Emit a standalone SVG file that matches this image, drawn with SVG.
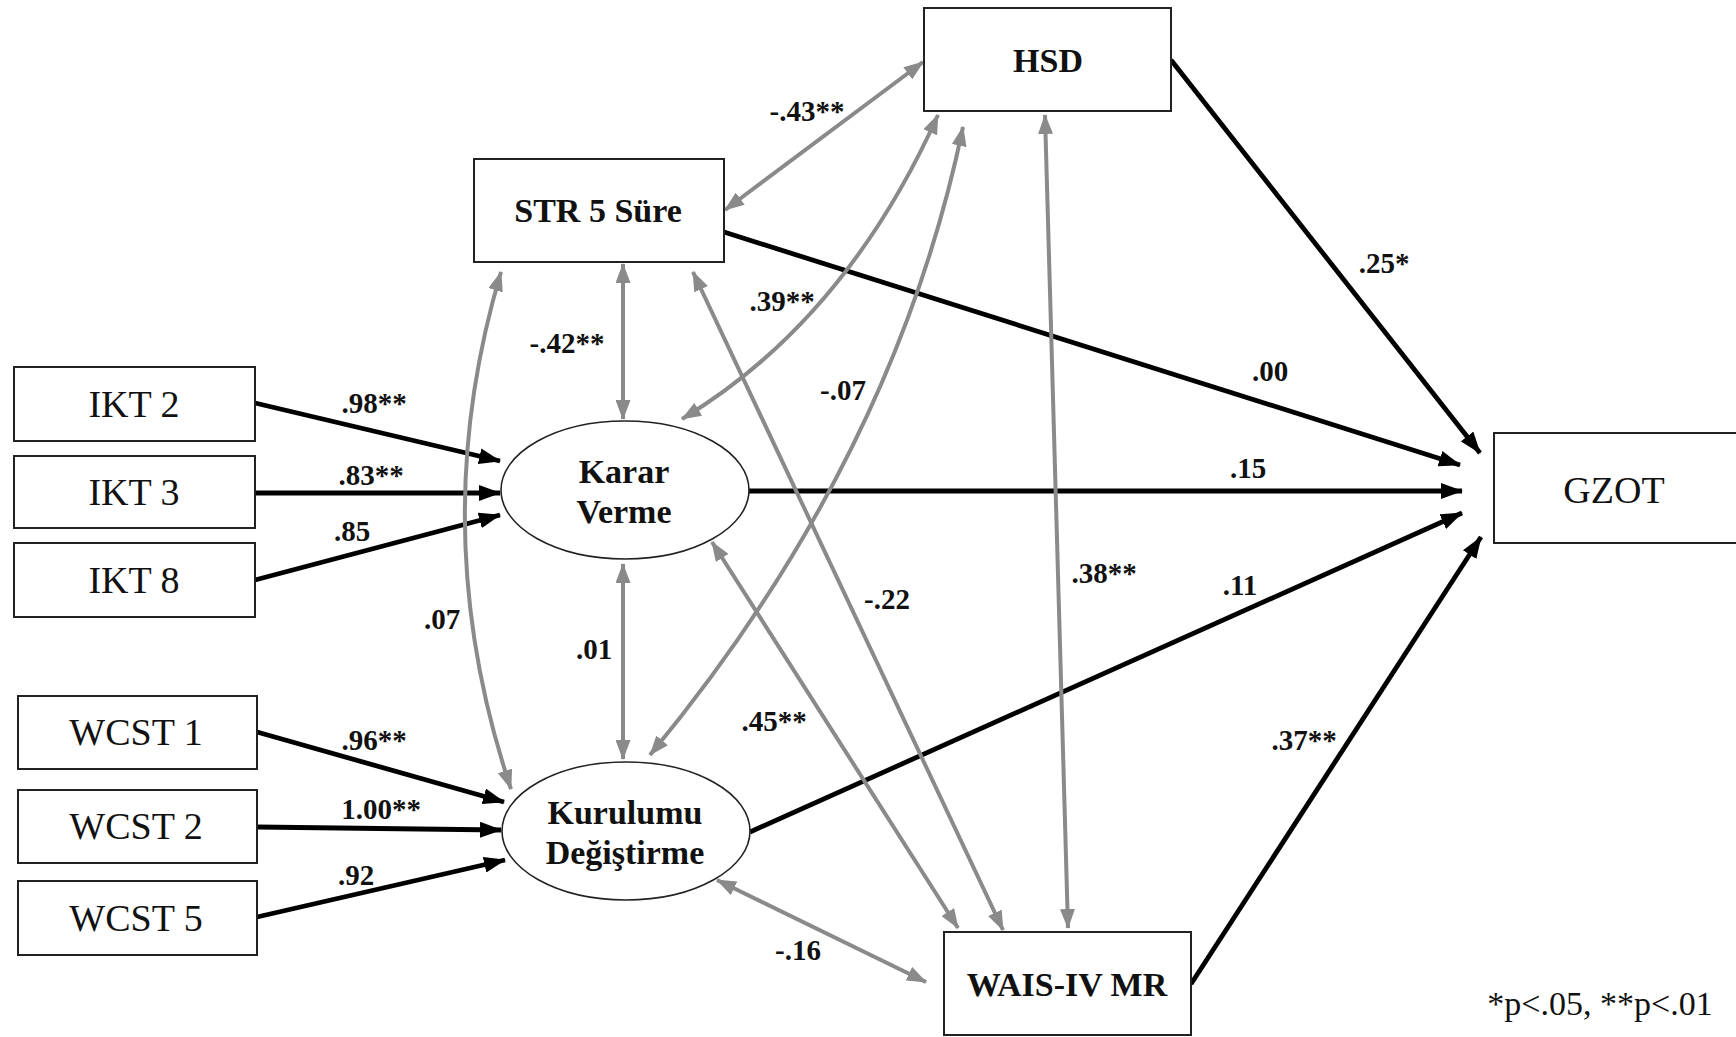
<svg xmlns="http://www.w3.org/2000/svg" width="1736" height="1037" viewBox="0 0 1736 1037">
<style>
.box{fill:#fff;stroke:#222;stroke-width:2}
.ell{fill:#fff;stroke:#222;stroke-width:1.6}
.reg{font-family:"Liberation Serif","Times New Roman",serif;font-size:38px;fill:#111;text-anchor:middle}
.bold{font-family:"Liberation Serif","Times New Roman",serif;font-size:34px;font-weight:bold;fill:#111;text-anchor:middle}
.lab{font-family:"Liberation Serif","Times New Roman",serif;font-size:29px;font-weight:bold;fill:#111;text-anchor:middle}
.note{font-family:"Liberation Serif","Times New Roman",serif;font-size:34px;fill:#111;text-anchor:middle}
.blk{fill:none;stroke:#000;stroke-width:4.8;marker-end:url(#ab)}
.gry{fill:none;stroke:#8a8a8a;stroke-width:4;marker-start:url(#ag);marker-end:url(#ag)}
</style>
<defs>
<marker id="ab" markerUnits="userSpaceOnUse" markerWidth="22" markerHeight="16" refX="21" refY="8" orient="auto">
<path d="M0,0 L22,8 L0,16 z" fill="#000"/>
</marker>
<marker id="ag" markerUnits="userSpaceOnUse" markerWidth="20" markerHeight="15" refX="19" refY="7.5" orient="auto-start-reverse">
<path d="M0,0 L20,7.5 L0,15 z" fill="#8a8a8a"/>
</marker>
</defs>
<rect width="1736" height="1037" fill="#fff"/>

<g id="connectors">
<g id="paths">
<line class="blk" x1="255" y1="403" x2="500" y2="461"/>
<line class="blk" x1="255" y1="493" x2="500" y2="493"/>
<line class="blk" x1="255" y1="580" x2="500" y2="515"/>
<line class="blk" x1="257" y1="732" x2="504" y2="802"/>
<line class="blk" x1="257" y1="827" x2="501" y2="830"/>
<line class="blk" x1="257" y1="917" x2="505" y2="860"/>
<line class="blk" x1="749" y1="491" x2="1462" y2="491"/>
<line class="blk" x1="724" y1="232" x2="1460" y2="465"/>
<line class="blk" x1="1171" y1="60" x2="1480" y2="453"/>
<line class="blk" x1="750" y1="832" x2="1462" y2="513"/>
<line class="blk" x1="1191" y1="984" x2="1481" y2="537"/>
</g>
<g id="covariances">
<line class="gry" x1="725" y1="210" x2="923" y2="62"/>
<line class="gry" x1="623" y1="264" x2="623" y2="419"/>
<path class="gry" d="M682,419 Q845,321 938,115"/>
<path class="gry" d="M650,755 Q894,460 963,127"/>
<path class="gry" d="M501,272 Q424,530 511,789"/>
<line class="gry" x1="693" y1="272" x2="1003" y2="930"/>
<line class="gry" x1="712" y1="542" x2="958" y2="928"/>
<line class="gry" x1="623" y1="564" x2="623" y2="759"/>
<line class="gry" x1="1045" y1="115" x2="1068" y2="928"/>
<line class="gry" x1="717" y1="880" x2="926" y2="982"/>
</g>
<g id="labels">
<text class="lab" x="807" y="121">-.43**</text>
<text class="lab" x="567" y="353">-.42**</text>
<text class="lab" x="782" y="311">.39**</text>
<text class="lab" x="843" y="400">-.07</text>
<text class="lab" x="442" y="629">.07</text>
<text class="lab" x="887" y="609">-.22</text>
<text class="lab" x="774" y="731">.45**</text>
<text class="lab" x="594" y="659">.01</text>
<text class="lab" x="1104" y="583">.38**</text>
<text class="lab" x="798" y="960">-.16</text>
<text class="lab" x="374" y="413">.98**</text>
<text class="lab" x="371" y="485">.83**</text>
<text class="lab" x="352" y="541">.85</text>
<text class="lab" x="374" y="750">.96**</text>
<text class="lab" x="381" y="819">1.00**</text>
<text class="lab" x="356" y="885">.92</text>
<text class="lab" x="1384" y="273">.25*</text>
<text class="lab" x="1270" y="381">.00</text>
<text class="lab" x="1248" y="478">.15</text>
<text class="lab" x="1240" y="595">.11</text>
<text class="lab" x="1304" y="750">.37**</text>
</g>
</g>

<g id="HSD"><rect class="box" x="924" y="8" width="247" height="103"/><text class="bold" x="1048" y="72">HSD</text></g>
<g id="STR5"><rect class="box" x="474" y="159" width="250" height="103"/><text class="bold" x="598" y="222">STR 5 Süre</text></g>
<g id="IKT2"><rect class="box" x="14" y="367" width="241" height="74"/><text class="reg" x="134" y="417">IKT 2</text></g>
<g id="IKT3"><rect class="box" x="14" y="456" width="241" height="72"/><text class="reg" x="134" y="505">IKT 3</text></g>
<g id="IKT8"><rect class="box" x="14" y="543" width="241" height="74"/><text class="reg" x="134" y="593">IKT 8</text></g>
<g id="WCST1"><rect class="box" x="18" y="696" width="239" height="73"/><text class="reg" x="136" y="745">WCST 1</text></g>
<g id="WCST2"><rect class="box" x="18" y="790" width="239" height="73"/><text class="reg" x="136" y="839">WCST 2</text></g>
<g id="WCST5"><rect class="box" x="18" y="881" width="239" height="74"/><text class="reg" x="136" y="931">WCST 5</text></g>
<g id="KararVerme"><ellipse class="ell" cx="625" cy="490" rx="124" ry="69"/><text class="bold" x="624" y="483">Karar</text><text class="bold" x="624" y="523">Verme</text></g>
<g id="KurulumuDegistirme"><ellipse class="ell" cx="626" cy="831" rx="124" ry="69"/><text class="bold" x="625" y="824">Kurulumu</text><text class="bold" x="625" y="864">Değiştirme</text></g>
<g id="GZOT"><rect class="box" x="1494" y="433" width="260" height="110"/><text class="reg" x="1614" y="503">GZOT</text></g>
<g id="WAIS"><rect class="box" x="944" y="932" width="247" height="103"/><text class="bold" x="1067" y="996">WAIS-IV MR</text></g>
<g id="legend"><text class="note" x="1600" y="1015">*p&lt;.05, **p&lt;.01</text></g>
</svg>
